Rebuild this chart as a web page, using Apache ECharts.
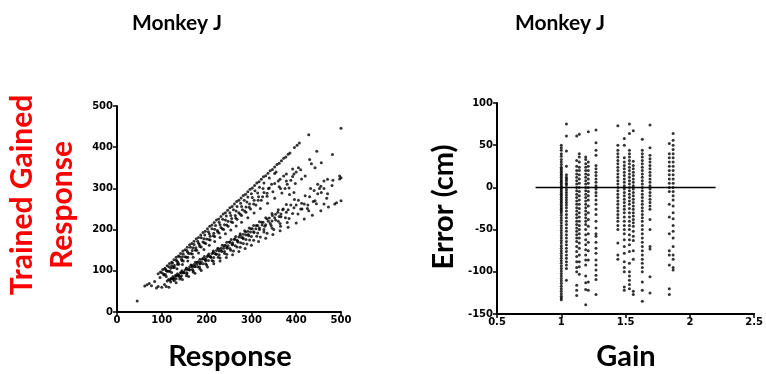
<!DOCTYPE html>
<html><head><meta charset="utf-8">
<script src="https://cdn.jsdelivr.net/npm/echarts@6/dist/echarts.min.js"></script>
<style>html,body{margin:0;padding:0;background:#fff}#c{width:766px;height:374px}</style>
</head><body><div id="c"></div>
<script>
// ---- Left panel: Response vs Trained Gained Response ----
const respG100 = [[92,93],[97,97],[102,103],[107,106],[112,112],[117,118],[122,121],[127,127],[132,133],[137,136],[142,142],[147,148],[152,151],[157,157],[162,163],[167,166],[172,172],[177,178],[182,181],[187,187],[192,193],[197,196],[202,202],[207,208],[212,211],[217,217],[222,223],[227,226],[232,232],[237,238],[242,241],[247,247],[252,253],[257,256],[262,262],[267,268],[272,271],[277,277],[282,283],[287,286],[292,292],[297,298],[302,301],[307,307],[312,313],[317,316],[322,322],[327,328],[332,331],[337,337],[342,343],[347,346],[352,352],[357,358],[362,361],[367,367],[372,373],[377,376],[382,383],[386,386],[396,399],[402,405],[407,410],[428,430]];
const respG104 = [[100,95],[108,104],[116,110],[124,119],[132,126],[140,134],[148,141],[156,149],[164,157],[172,164],[180,172],[188,180],[196,187],[204,195],[212,202],[220,210],[228,218],[236,225],[244,233],[252,241],[260,248],[268,256],[276,264],[284,271],[292,279],[300,287],[308,294],[318,303],[328,313],[340,325],[352,336]];
const respG109 = [[110,101],[122,112],[134,123],[146,134],[158,145],[170,156],[182,167],[194,178],[206,190],[218,201],[230,212],[242,223],[254,234],[266,245],[278,256],[290,267],[302,278],[314,289],[326,300]];
const respG113 = [[96,84],[104,92],[112,99],[120,106],[128,113],[136,120],[144,128],[152,134],[160,142],[168,149],[176,156],[184,163],[192,170],[200,177],[208,184],[216,191],[224,198],[232,205],[240,212],[248,220],[256,227],[264,234],[272,241],[280,248],[288,255],[296,262],[306,271],[316,280],[328,290],[340,301],[352,312],[364,322],[378,335],[392,347]];
const respG116 = [[105,90],[115,99],[125,108],[135,116],[145,125],[155,133],[165,142],[175,150],[185,159],[195,168],[205,176],[215,185],[225,194],[235,202],[245,211],[255,219],[265,228],[275,237],[285,245],[295,254],[305,262],[315,271],[325,280],[335,288]];
const respG120 = [[108,91],[118,99],[128,108],[138,116],[148,124],[158,133],[168,141],[178,150],[188,158],[198,166],[208,175],[218,183],[228,192],[238,200],[248,208],[258,217],[268,225],[278,234],[288,242],[298,250],[310,260],[322,271],[335,281],[348,292],[362,304],[378,318],[392,329]];
const respG127 = [[110,86],[122,96],[134,105],[146,115],[158,124],[170,133],[182,143],[194,152],[206,162],[218,171],[230,181],[242,190],[254,199],[266,209],[278,218],[292,229],[306,240],[320,251],[336,264],[352,276],[368,289],[384,301],[398,312],[412,323],[420,330],[355,340],[360,318],[372,330],[375,300],[380,310],[388,320],[395,335],[400,340],[405,350],[410,345],[395,290],[385,285],[365,300],[345,310],[338,300]];
const respG144 = [[115,79],[125,86],[135,93],[145,100],[155,107],[165,114],[175,121],[185,128],[195,135],[205,141],[215,148],[225,155],[235,162],[245,169],[255,176],[265,183],[275,190],[285,197],[295,204],[305,210],[318,219],[332,229],[346,239],[360,248],[378,261],[396,273]];
const respG148 = [[120,81],[131,89],[143,96],[155,105],[167,113],[179,121],[191,129],[203,137],[215,145],[227,153],[239,161],[251,170],[263,178],[275,186],[287,194],[299,202],[311,210],[323,218],[335,226],[347,234],[359,242],[371,250]];
const respG149 = [[112,75],[122,82],[132,88],[142,95],[152,102],[162,109],[172,115],[182,122],[192,129],[202,135],[212,142],[222,149],[232,155],[242,162],[252,169],[262,176],[272,182],[282,189],[292,196],[302,202],[314,210],[326,218],[340,228],[354,237],[370,248],[388,260],[405,271],[420,282],[440,295],[455,305]];
const respG153 = [[118,77],[128,83],[138,90],[148,96],[158,103],[168,109],[178,116],[188,122],[198,129],[208,135],[218,142],[228,148],[238,155],[248,161],[258,168],[268,174],[278,181],[288,187],[298,194],[310,202],[324,211],[338,220],[352,229],[366,238],[382,248],[400,260],[430,280],[462,300],[497,323]];
const respG156 = [[125,80],[137,88],[149,95],[161,103],[173,111],[185,118],[197,126],[209,134],[221,141],[233,149],[245,157],[257,164],[269,172],[281,180],[293,188],[305,195],[318,204],[332,212],[346,221],[362,232],[378,242],[395,253],[412,264],[448,287],[480,307]];
const respG159 = [[126,79],[138,87],[150,95],[162,102],[174,110],[186,117],[198,125],[210,132],[222,140],[234,147],[246,155],[258,163],[270,170],[282,178],[294,185],[306,193],[318,200],[330,208],[342,215],[354,223],[366,231]];
const respG163 = [[120,73],[132,81],[144,88],[156,95],[168,103],[180,110],[192,117],[204,125],[216,132],[228,139],[240,147],[252,154],[264,161],[276,168],[288,176],[300,183],[314,192],[328,200],[344,210],[360,220],[376,229],[392,239],[410,250],[426,260],[442,270],[470,287]];
const respG169 = [[128,76],[142,84],[156,92],[170,100],[184,109],[198,117],[212,125],[226,133],[240,142],[254,150],[268,158],[282,166],[296,175],[312,184],[328,194],[346,204],[364,215],[384,227],[404,238],[425,251],[445,263],[468,276]];
const respG175 = [[140,80],[155,88],[170,97],[185,105],[200,114],[215,123],[230,131],[245,140],[260,148],[275,157],[290,165],[305,174],[320,182],[335,191],[350,200],[365,208],[380,217]];
const respG186 = [[132,71],[146,79],[160,86],[174,94],[188,101],[202,109],[216,117],[230,124],[244,132],[258,139],[272,147],[286,154],[300,162],[316,171],[332,179],[348,188],[364,197],[382,206],[400,216],[418,226],[436,235],[455,246],[472,255],[490,265],[500,270]];
const respScatter = [[45,27],[62,63],[67,66],[72,69],[77,64],[84,74],[88,58],[92,62],[100,60],[106,67],[110,62],[116,60],[430,370],[434,360],[442,350],[446,390],[456,362],[481,382],[497,330],[500,326],[470,322],[462,318],[448,310],[452,300],[432,300],[482,320],[456,290],[438,268],[462,262],[486,262],[418,262],[413,250],[428,246],[500,446]];

// ---- Right panel: Gain vs Error (cm) ----
const gains = [1.0, 1.04, 1.12, 1.14, 1.19, 1.21, 1.27, 1.44, 1.49, 1.53, 1.56, 1.63, 1.69, 1.84, 1.87];
const err100 = [50,47,44,40,37,33,30,27,24,22,20,18,16,14,12,10,8,6,4,2,0,-2,-4,-6,-8,-10,-12,-14,-16,-18,-20,-22,-24,-26,-28,-30,-33,-36,-39,-42,-45,-48,-51,-54,-57,-60,-63,-66,-69,-72,-75,-78,-81,-84,-87,-90,-93,-96,-99,-102,-105,-108,-111,-114,-117,-120,-123,-126,-129,-131,-133];
const err104 = [75,61,43,25,15,12,10,8,5,3,0,-3,-6,-9,-12,-15,-18,-21,-24,-28,-32,-36,-40,-44,-48,-52,-56,-60,-64,-68,-72,-76,-80,-84,-88,-92,-96,-110];
const err112 = [61,32,25,20,16,12,8,4,0,-4,-8,-12,-16,-20,-24,-28,-32,-36,-40,-44,-48,-52,-56,-60,-64,-70,-76,-82,-88,-95,-100,-116,-122,-128];
const err114 = [63,40,36,30,24,20,15,10,5,0,-5,-10,-15,-20,-25,-30,-35,-40,-45,-50,-55,-60,-66,-72,-80,-88,-94,-103];
const err119 = [36,33,28,24,20,16,12,8,4,0,-4,-8,-12,-16,-20,-24,-28,-32,-36,-40,-44,-50,-56,-62,-68,-74,-80,-86,-92,-105,-113,-121,-139];
const err121 = [66,30,25,20,15,10,5,0,-5,-10,-15,-22,-30,-38,-46,-55,-65,-75,-86,-112,-122];
const err127 = [68,53,44,38,26,22,18,14,10,6,2,-2,-6,-10,-15,-20,-26,-32,-40,-48,-55,-58,-65,-72,-78,-86,-92,-98,-104,-109,-127];
const err144 = [73,50,44,40,36,32,28,24,20,16,12,8,4,0,-4,-8,-12,-16,-20,-24,-28,-32,-36,-40,-45,-50,-66,-80,-85];
const err149 = [58,50,35,30,26,22,18,14,10,6,2,-2,-6,-10,-14,-18,-22,-26,-30,-35,-40,-45,-50,-55,-62,-70,-78,-88,-95,-100,-118,-122];
const err153 = [75,64,44,40,36,32,28,24,20,16,12,8,4,0,-4,-8,-12,-16,-20,-25,-30,-35,-40,-45,-50,-56,-62,-68,-76,-90,-100,-105,-110,-115,-120];
const err156 = [67,31,26,22,18,14,10,6,2,-2,-6,-10,-14,-18,-22,-26,-30,-34,-38,-42,-46,-52,-58,-63,-75,-85,-123,-127];
const err163 = [57,44,40,36,32,28,24,20,16,12,8,4,0,-4,-8,-12,-16,-20,-24,-28,-32,-36,-40,-45,-50,-55,-60,-65,-70,-75,-80,-85,-90,-95,-100,-112,-122,-135];
const err169 = [74,47,38,34,30,26,22,18,14,10,6,2,-2,-6,-10,-14,-18,-22,-26,-38,-50,-70,-73,-106,-125];
const err184 = [52,40,35,30,25,20,15,10,5,0,-5,-20,-35,-55,-75,-80,-92,-120,-127];
const err187 = [64,56,50,45,40,35,30,25,20,15,10,5,0,-5,-10,-15,-22,-30,-37,-45,-52,-60,-70,-80,-85,-95,-98];
const refLine = [[0.8,0],[2.2,0]];

const leftTicks = {min:0, max:500, interval:100};
const rightX = {min:0.5, max:2.5, interval:0.5};
const rightY = {min:-150, max:100, interval:50};

const leftData = [].concat(respG100,respG104,respG109,respG113,respG116,respG120,respG127,respG144,respG148,respG149,respG153,respG156,respG159,respG163,respG169,respG175,respG186,respScatter);
const errCols = [err100,err104,err112,err114,err119,err121,err127,err144,err149,err153,err156,err163,err169,err184,err187];
const rightData = [];
errCols.forEach((col,i)=>col.forEach(v=>rightData.push([gains[i],v])));

const tickFont = {fontFamily:"'DejaVu Sans',sans-serif", fontWeight:'bold', fontSize:10, color:'#000'};
function axis(o, gridIndex, type){
  return Object.assign({
    type:'value', gridIndex,
    axisLine:{onZero:false, lineStyle:{color:'#000', width:2}},
    axisTick:{show:true, inside:false, length:4, lineStyle:{color:'#000', width:1.5}},
    axisLabel:Object.assign({margin: type==='x'?3:4, showMinLabel:true, showMaxLabel:true}, tickFont),
    splitLine:{show:false}
  }, o);
}
const titleFont = "Lato,'Open Sans',sans-serif";
const chart = echarts.init(document.getElementById('c'), null, {renderer:'canvas'});
chart.setOption({
  animation:false,
  backgroundColor:'#fff',
  grid:[
    {left:117, top:106, width:224, height:206},
    {left:497, top:103, width:263, height:211}
  ],
  xAxis:[axis(leftTicks,0,'x'), axis(rightX,1,'x')],
  yAxis:[axis(leftTicks,0,'y'), axis(rightY,1,'y')],
  series:[
    {type:'scatter', xAxisIndex:0, yAxisIndex:0, data:leftData, symbolSize:3, itemStyle:{color:'#000'}},
    {type:'scatter', xAxisIndex:1, yAxisIndex:1, data:rightData, symbolSize:3, itemStyle:{color:'#000'}},
    {type:'line', xAxisIndex:1, yAxisIndex:1, data:refLine, symbol:'none', lineStyle:{color:'#000', width:1.5}, z:5}
  ],
  graphic:[
    {type:'text', style:{text:'Monkey J', x:177, y:23, align:'center', verticalAlign:'middle', font:"bold 21px "+titleFont, fill:'#000'}},
    {type:'text', style:{text:'Monkey J', x:560, y:23, align:'center', verticalAlign:'middle', font:"bold 21px "+titleFont, fill:'#000'}},
    {type:'text', style:{text:'Response', x:230, y:357, align:'center', verticalAlign:'middle', font:"bold 29px "+titleFont, fill:'#000'}},
    {type:'text', style:{text:'Gain', x:626, y:357, align:'center', verticalAlign:'middle', font:"bold 29px "+titleFont, fill:'#000'}},
    {type:'text', x:22, y:195, rotation:Math.PI/2, style:{text:'Trained Gained', x:0, y:0, align:'center', verticalAlign:'middle', font:"bold 30px "+titleFont, fill:'#ff0000'}},
    {type:'text', x:62, y:205, rotation:Math.PI/2, style:{text:'Response', x:0, y:0, align:'center', verticalAlign:'middle', font:"bold 30px "+titleFont, fill:'#ff0000'}},
    {type:'text', x:444, y:207, rotation:Math.PI/2, style:{text:'Error (cm)', x:0, y:0, align:'center', verticalAlign:'middle', font:"bold 29px "+titleFont, fill:'#000'}}
  ]
});
</script></body></html>
